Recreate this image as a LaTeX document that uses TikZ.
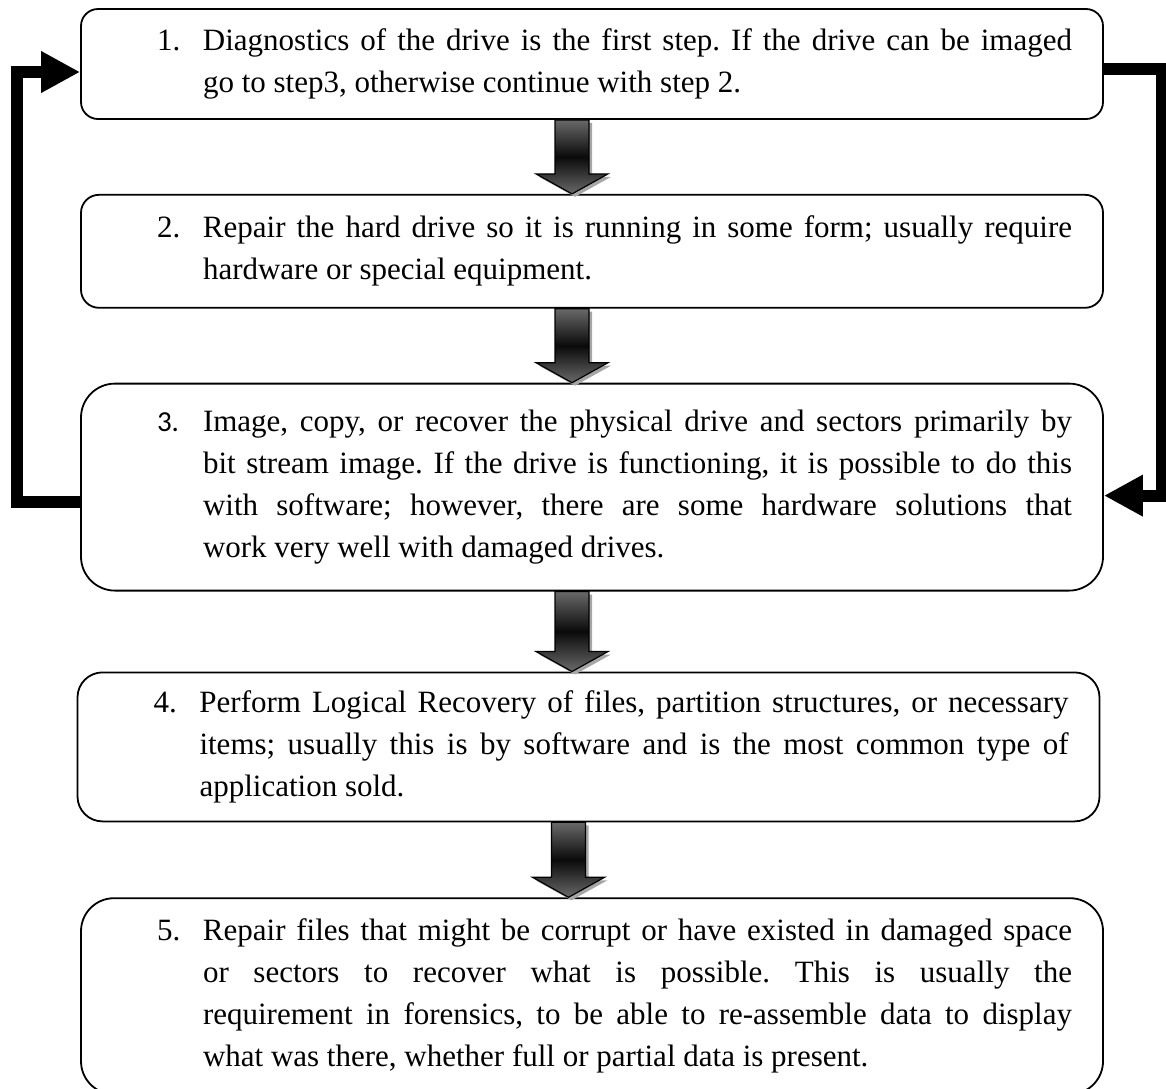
\documentclass[tikz,border=0pt]{standalone}
\usepackage{fontspec}
\setmainfont{Liberation Serif}
\newfontfamily\numfont{Carlito}
\usepackage{tikz}
\usetikzlibrary{positioning}
\usetikzlibrary{calc}
\usetikzlibrary{arrows.meta}
\usetikzlibrary{shadows}
\definecolor{mygray}{RGB}{105,105,105}
\definecolor{mydark}{RGB}{10,10,10}
\newcommand\steptext[2]{%
  \hspace*{61pt}\parbox[c]{434.5pt}{%
    \frenchspacing\hyphenpenalty=10000\tolerance=9999\emergencystretch=20pt
    \noindent\llap{\makebox[23pt][l]{#1}}#2}\hspace*{15.5pt}}
\newcommand\blockarrow[2]{%
  \draw[blockarr] let \p1=($(#1.south)+(-10pt,0)$), \p2=(#2.north) in
    (\x1-8.5pt,\y1) -- (\x1+8.5pt,\y1) -- (\x1+8.5pt,\y2+10pt) -- (\x1+18pt,\y2+10pt)
    -- (\x1,\y2) -- (\x1-18pt,\y2+10pt) -- (\x1-8.5pt,\y2+10pt) -- cycle;
}

\begin{document}
\begin{tikzpicture}[>=latex,
node distance=37pt,
stepbox/.style={
  draw,
  line width=0.9pt,
  minimum width=511pt,
  inner xsep=0pt,
  inner ysep=0pt,
  font=\fontsize{15.5}{21}\selectfont},
blockarr/.style={
  draw=black,
  line width=0.6pt,
  line join=miter,
  top color=mygray,
  bottom color=mygray,
  middle color=mydark,
  drop shadow={shadow xshift=1.5pt, shadow yshift=-1.5pt, fill=gray!70, opacity=1}},
loopline/.style={
  draw,
  line width=6pt,
  line join=miter,
  -{Triangle[length=19.5pt,width=19.5pt]}}
]
\useasboundingbox (0,0) rectangle (583pt,-544pt);
\node[stepbox, minimum height=55pt, rounded corners=8.5pt] (b1) at (296pt,-32pt)
  {\steptext{1.}{Diagnostics of the drive is the first step. If the drive can be imaged\linebreak go to step3, otherwise continue with step 2.}};
\node[stepbox, minimum height=56.5pt, rounded corners=9pt, below=of b1] (b2)
  {\steptext{2.}{Repair the hard drive so it is running in some form; usually require\linebreak hardware or special equipment.}};
\node[stepbox, minimum height=103.5pt, rounded corners=17pt, below=of b2] (b3)
  {\steptext{{\numfont\fontsize{14.5}{21}\selectfont 3.}}{Image, copy, or recover the physical drive and sectors primarily by\linebreak bit stream image. If the drive is functioning, it is possible to do this\linebreak with software; however, there are some hardware solutions that\linebreak work very well with damaged drives.}};
\node[stepbox, minimum height=74.5pt, rounded corners=12.5pt, below=40pt of b3, xshift=-1.75pt] (b4)
  {\steptext{4.}{Perform Logical Recovery of files, partition structures, or necessary\linebreak items; usually this is by software and is the most common type of\linebreak application sold.}};
\node[stepbox, minimum height=98pt, rounded corners=16.5pt, below=37.5pt of b4, xshift=1.75pt] (b5)
  {\steptext{5.}{Repair files that might be corrupt or have existed in damaged space\linebreak or sectors to recover what is possible. This is usually the\linebreak requirement in forensics, to be able to re-assemble data to display\linebreak what was there, whether full or partial data is present.}};
\blockarrow{b1}{b2}
\blockarrow{b2}{b3}
\blockarrow{b3}{b4}
\blockarrow{b4}{b5}
\draw[loopline] ($(b3.west)+(0,-7.25pt)$) -| ($(b1.west)+(-31.5pt,-4pt)$) -- ($(b1.west)+(0,-4pt)$);
\draw[loopline] ($(b1.east)+(0,-2.5pt)$) -| ($(b3.east)+(29pt,-4.25pt)$) -- ($(b3.east)+(0,-4.25pt)$);
\end{tikzpicture}
\end{document}
